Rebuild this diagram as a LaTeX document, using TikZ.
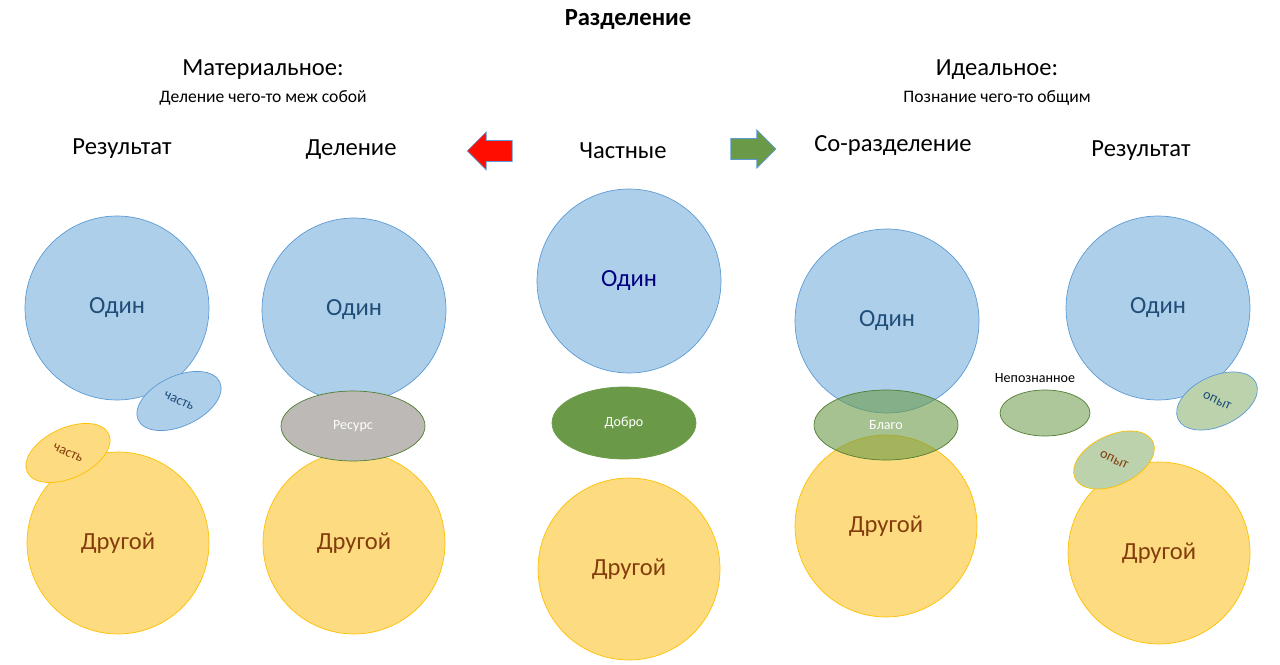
\documentclass[tikz,border=0pt]{standalone}
\usepackage{fontspec}
\setmainfont{Carlito}
\usetikzlibrary{shapes.geometric,shapes.arrows}
\definecolor{oneFill}{HTML}{AECFEA}
\definecolor{oneLine}{HTML}{5B9BD5}
\definecolor{oneText}{HTML}{1F4E79}
\definecolor{twoFill}{HTML}{FDDB80}
\definecolor{twoLine}{HTML}{FFC000}
\definecolor{twoText}{HTML}{843C0C}
\definecolor{goodFill}{HTML}{6A9A47}
\definecolor{goodLine}{HTML}{507E32}
\definecolor{resFill}{HTML}{BDB9B6}
\tikzset{
  one/.style={circle, draw=oneLine, fill=oneFill, minimum size=3.68cm,
    text=oneText, font=\fontsize{14}{16}\selectfont},
  two/.style={circle, draw=twoLine, fill=twoFill, minimum size=3.64cm,
    text=twoText, font=\fontsize{14}{16}\selectfont},
  blob/.style={ellipse, minimum width=1.8cm, minimum height=1.0cm, inner sep=0pt,
    font=\fontsize{8}{9}\selectfont},
  tilt/.style={font=\fontsize{8}{9}\selectfont, rotate=-25},
  head/.style={font=\fontsize{14}{16}\selectfont},
}
\begin{document}
\begin{tikzpicture}[x=0.02cm,y=-0.02cm]
  \useasboundingbox (0,0) rectangle (1280,665);
  % headings
  \node[font=\fontsize{14}{16}\selectfont\bfseries] (title) at (628,20) {Разделение};
  \node[head] (mat) at (263,70) {Материальное:};
  \node[font=\fontsize{10}{12}\selectfont] (matsub) at (263,98) {Деление чего-то меж собой};
  \node[head] (ide) at (997,70) {Идеальное:};
  \node[font=\fontsize{10}{12}\selectfont] (idesub) at (997,98) {Познание чего-то общим};
  \node[head] (h1) at (122,149) {Результат};
  \node[head] (h2) at (351,150) {Деление};
  \node[head] (h3) at (623,151) {Частные};
  \node[head] (h4) at (893,146) {Со-разделение};
  \node[head] (h5) at (1141,151) {Результат};
  \node[single arrow, draw=oneLine, fill=red!90!orange, shape border rotate=180,
    minimum width=0.76cm, minimum height=0.9cm, single arrow head extend=0.1cm] (ar1) at (495,151) {};
  \node[single arrow, draw=oneLine, fill=goodFill,
    minimum width=0.76cm, minimum height=0.9cm, single arrow head extend=0.1cm] (ar2) at (748,149) {};
  % result, material
  \node[one] (o1) at (117,308) {Один};
  \node[two] (t1) at (118,543) {Другой};
  \node[blob, draw=oneLine, fill=oneFill, rotate=25] (p1) at (179,401) {};
  \node[tilt, text=oneText] (p1t) at (p1) {часть};
  \node[blob, draw=twoLine, fill=twoFill, rotate=25] (p2) at (68,453) {};
  \node[tilt, text=twoText] (p2t) at (p2) {часть};
  % division
  \node[one] (o2) at (354,310) {Один};
  \node[two] (t2) at (354,543) {Другой};
  \node[blob, draw=goodLine, fill=resFill, text=white, minimum width=2.88cm,
    minimum height=1.4cm] (res) at (353,426) {Ресурс};
  % private
  \node[one, text=blue!50!black] (o3) at (629,281) {Один};
  \node[two] (t3) at (629,569) {Другой};
  \node[blob, draw=goodFill, fill=goodFill, text=white, minimum width=2.88cm,
    minimum height=1.44cm] (dob) at (624,423) {Добро};
  % co-division
  \node[one] (o4) at (887,321) {Один};
  \node[two] (t4) at (886,526) {Другой};
  \node[blob, draw=goodLine, fill=goodFill, fill opacity=0.6, text opacity=1, text=white,
    minimum width=2.88cm, minimum height=1.4cm] (bla) at (886,425) {Благо};
  \node[blob, draw=goodLine, fill=goodFill!55, minimum width=1.8cm,
    minimum height=0.92cm] (unk) at (1045,413) {};
  \node[font=\fontsize{8}{9}\selectfont] (unkt) at (1035,378) {Непознанное};
  % result, ideal
  \node[one] (o5) at (1158,308) {Один};
  \node[two] (t5) at (1159,553) {Другой};
  \node[blob, draw=oneLine, fill=goodFill!45, minimum width=1.72cm,
    rotate=25] (x1) at (1217,401) {};
  \node[tilt, text=oneText] (x1t) at (x1) {опыт};
  \node[blob, draw=twoLine, fill=goodFill!45, minimum width=1.72cm,
    rotate=25] (x2) at (1114,460) {};
  \node[tilt, text=twoText] (x2t) at (x2) {опыт};
\end{tikzpicture}
\end{document}
